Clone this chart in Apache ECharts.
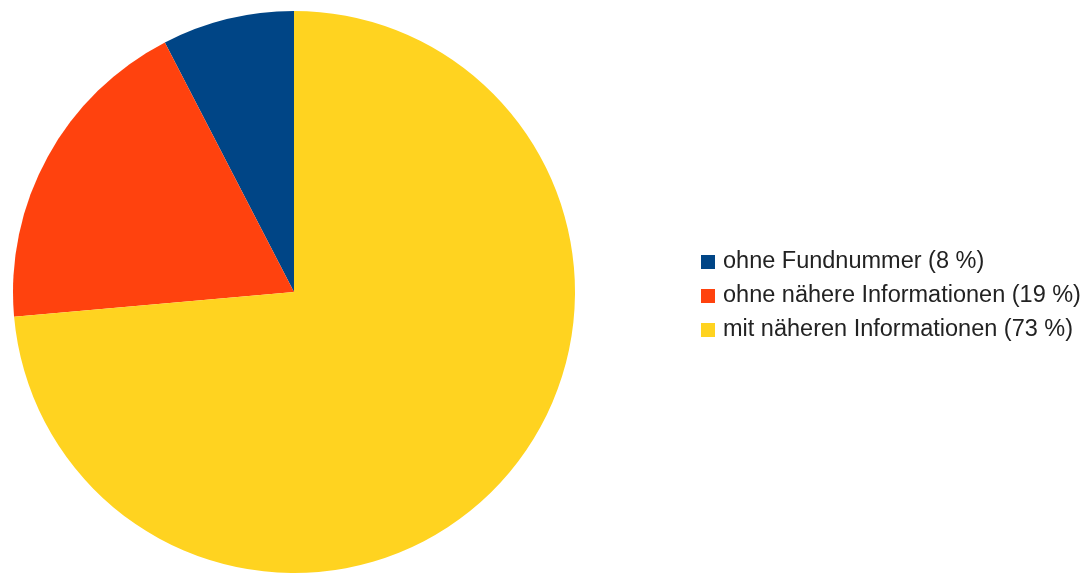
<!DOCTYPE html>
<html>
<head>
<meta charset="utf-8">
<script src="https://cdn.jsdelivr.net/npm/echarts@6/dist/echarts.min.js"></script>
<style>
html,body{margin:0;padding:0;background:#fff;}
#main{width:1092px;height:575px;}
</style>
</head>
<body>
<div id="main"></div>
<script>
const categories = ['ohne Fundnummer', 'ohne nähere Informationen', 'mit näheren Informationen'];
const values = [7.6, 18.8, 73.6];
const percentLabels = ['8 %', '19 %', '73 %'];
const colors = ['#004586', '#ff420e', '#ffd320'];

const chart = echarts.init(document.getElementById('main'), null, {renderer: 'canvas'});
const data = categories.map((c, i) => ({
  name: c + ' (' + percentLabels[i] + ')',
  value: values[i],
  itemStyle: {color: colors[i]}
}));
chart.setOption({
  backgroundColor: '#ffffff',
  animation: false,
  legend: {
    orient: 'vertical',
    left: 696,
    top: 245,
    itemWidth: 14,
    itemHeight: 14,
    itemGap: 10,
    icon: 'rect',
    textStyle: {
      fontFamily: 'Liberation Sans',
      fontSize: 23.5,
      lineHeight: 23,
      color: '#222222',
      padding: [0, 0, 0, 3]
    },
    data: data.map(d => d.name)
  },
  series: [{
    type: 'pie',
    center: [294, 292],
    radius: 281,
    startAngle: 90,
    clockwise: false,
    label: {show: false},
    labelLine: {show: false},
    emphasis: {disabled: true},
    itemStyle: {borderWidth: 0},
    data: data
  }]
});
</script>
</body>
</html>
